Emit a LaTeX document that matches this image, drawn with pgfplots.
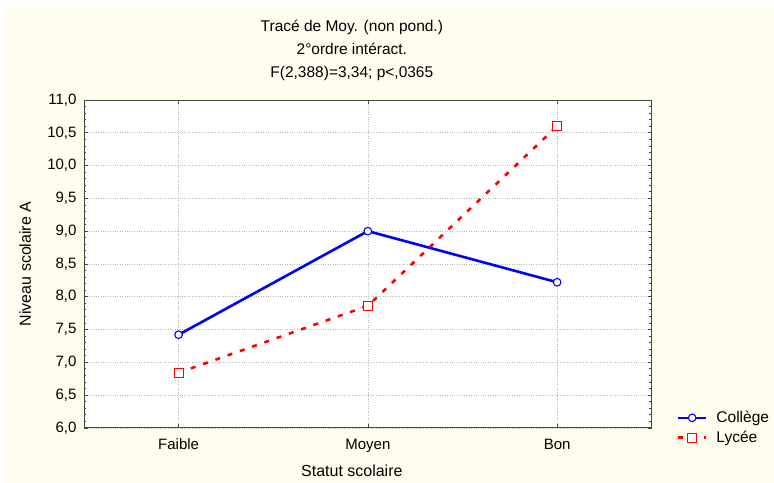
\documentclass[border=0pt]{standalone}
\usepackage{fontspec}
\setmainfont{Liberation Sans}
\usepackage{pgfplots}
\pgfplotsset{compat=1.18}
\definecolor{cream}{RGB}{255,253,238}
\definecolor{axgray}{RGB}{70,70,70}
\definecolor{gridgray}{RGB}{185,185,185}
\definecolor{lblue}{RGB}{0,0,255}
\definecolor{lred}{RGB}{255,0,0}
\begin{document}
\begin{tikzpicture}[x=1bp,y=1bp]
\fill[white] (0,0) rectangle (774,483);
\fill[cream] (6,0) rectangle (774,476);
\begin{axis}[
    at={(84bp,55bp)}, anchor=south west,
    scale only axis, width=568bp, height=328bp,
    axis background/.style={fill=white},
    axis line style={axgray, line width=0.9pt},
    xmin=-0.5, xmax=2.5, ymin=6, ymax=11,
    xtick={0,1,2}, xticklabels={Faible,Moyen,Bon},
    ytick={6,6.5,...,11},
    minor y tick num=4,
    tick pos=both, tick align=inside,
    major tick length=4bp, minor tick length=2.5bp,
    tick style={axgray, line width=0.6pt},
    grid=major,
    major grid style={gridgray, dotted, line width=0.6pt},
    tick label style={font=\fontsize{15bp}{18bp}\selectfont},
    /pgf/number format/assume math mode=true,
    yticklabel style={xshift=-4bp, /pgf/number format/.cd, fixed, fixed zerofill, precision=1, use comma},
    xticklabel style={anchor=base, yshift=-22bp},
    legend style={draw=none, fill=none, at={(axis description cs:1,0)}, anchor=west,
        xshift=22bp, yshift=0bp, row sep=3bp,
        font=\fontsize{15.5bp}{18bp}\selectfont},
    legend cell align=left,
    legend image code/.code={\draw[mark repeat=2, mark phase=2] plot coordinates {(0bp,0bp) (14bp,0bp) (28bp,0bp)}; \path (35bp,0bp);},
]
\addplot[lblue, line width=2.6bp, mark=*, mark size=3.8bp,
    mark options={solid, fill=white, line width=1.1bp}]
    coordinates {(0,7.42) (1,9.00) (2,8.22)};
\addplot[lred, line width=2.6bp, dash pattern=on 5bp off 8bp, mark=square*, mark size=4.5bp,
    mark options={solid, fill=white, line width=1.1bp}]
    coordinates {(0,6.84) (1,7.86) (2,10.60)};
\legend{Collège, Lycée}
\end{axis}
\node[anchor=base, font=\fontsize{15.5bp}{18bp}\selectfont] at (352,451.5) {Tracé de Moy. (non pond.)};
\node[anchor=base, font=\fontsize{15.5bp}{18bp}\selectfont] at (352,428.5) {2°ordre intéract.};
\node[anchor=base, font=\fontsize{15.5bp}{18bp}\selectfont] at (352,405) {F(2,388)=3,34; p<,0365};
\node[anchor=base, font=\fontsize{16bp}{18bp}\selectfont] at (352,6) {Statut scolaire};
\node[anchor=base, rotate=90, font=\fontsize{16bp}{18bp}\selectfont] at (31,219) {Niveau scolaire A};
\end{tikzpicture}
\end{document}
